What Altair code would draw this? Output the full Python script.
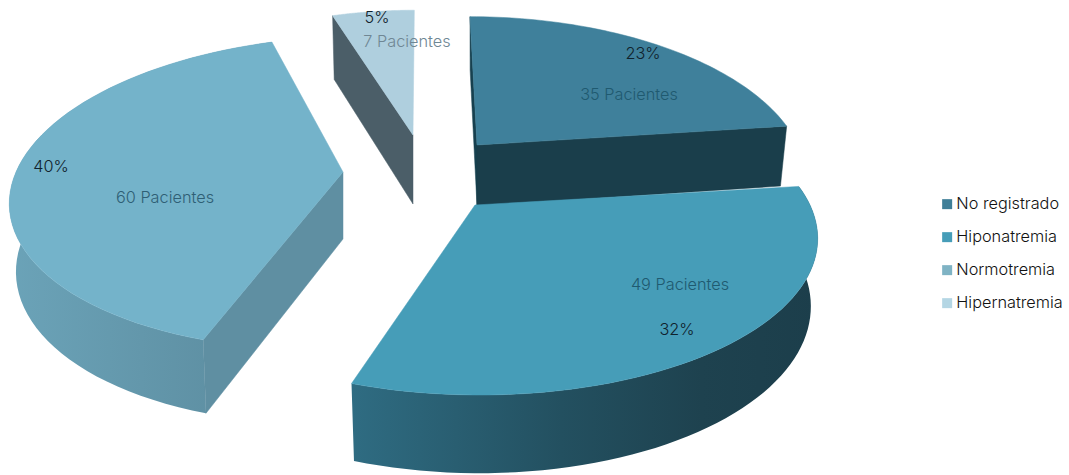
import math
import altair as alt
import pandas as pd

# Chart values
categories = ["No registrado", "Hiponatremia", "Normotremia", "Hipernatremia"]
percentages = [23, 32, 40, 5]
patients = [35, 49, 60, 7]

top_colors = ["#3f809b", "#469db8", "#74b3ca", "#afcfde"]
swatch_colors = ["#3f7f98", "#469db8", "#7fb3c4", "#b4d6e4"]

W, H = 1069, 475

# Projection of each exploded slice: tip position, radii, shear, perspective, depth
SLICES = [
    dict(cx=477, cy=145, rx=321, ry=154, shear=-8.4, k=0.20, depth=61),
    dict(cx=475, cy=205, rx=335, ry=152, shear=-3.7, k=0.20, depth=65.6),
    dict(cx=343, cy=172, rx=327, ry=154, shear=22, k=0.134, depth=67),
    dict(cx=413, cy=135, rx=297, ry=141, shear=1.5, k=0.13, depth=69),
]
SHRINK = 0.98


def project(s, t, bottom=False):
    u, v = math.sin(t), math.cos(t)
    w = 1 + s["k"] * v
    dx = (s["rx"] * u + s["shear"] * v) / w
    dy = -s["ry"] * v / w
    if bottom:
        return s["cx"] + dx * SHRINK, s["cy"] + dy * SHRINK + s["depth"] / w
    return s["cx"] + dx, s["cy"] + dy


def arc_points(s, t0, t1, bottom=False, n=60):
    return [project(s, t0 + (t1 - t0) * i / n, bottom) for i in range(n + 1)]


def polygon(points, fill):
    df = pd.DataFrame(points, columns=["px", "py"])
    df["i"] = range(len(df))
    return alt.Chart(df).mark_line(
        filled=True, fill=fill, stroke=fill if isinstance(fill, str) else None,
        strokeWidth=0.5 if isinstance(fill, str) else 0,
        interpolate="linear-closed", clip=True,
    ).encode(
        x=alt.X("px:Q", scale=alt.Scale(domain=[0, W], nice=False, zero=False), axis=None),
        y=alt.Y("py:Q", scale=alt.Scale(domain=[H, 0], nice=False, zero=False), axis=None),
        order=alt.Order("i:Q"),
    )


def ramp(*stops):
    return alt.Gradient(
        gradient="linear", x1=0, y1=0, x2=1, y2=0,
        stops=[alt.GradientStop(color=c, offset=o) for c, o in stops],
    )


def radial_wall(s, t):
    tip_top = (s["cx"], s["cy"])
    tip_bot = (s["cx"], s["cy"] + s["depth"])
    return [tip_top, project(s, t), project(s, t, True), tip_bot]


def arc_wall(s, t0, t1):
    return arc_points(s, t0, t1) + arc_points(s, t0, t1, True)[::-1]


# Angular extent of each slice, clockwise from twelve o'clock
angles = []
acc = 0
for p in percentages:
    angles.append((acc / 100 * 2 * math.pi, (acc + p) / 100 * 2 * math.pi))
    acc += p

layers = []

# No registrado: thin inner edge and front wall
s, (a0, a1) = SLICES[0], angles[0]
layers.append(polygon(radial_wall(s, a0), "#17404f"))
layers.append(polygon(radial_wall(s, a1), "#1a3e4b"))
layers.append(polygon([(s["cx"], s["cy"])] + arc_points(s, a0, a1), top_colors[0]))

# Hiponatremia: curved outer wall
s, (a0, a1) = SLICES[1], angles[1]
layers.append(polygon(arc_wall(s, a0, a1), ramp(("#2f6c82", 0), ("#235060", 0.45), ("#1e424f", 0.75), ("#1c3e4b", 1))))
layers.append(polygon([(s["cx"], s["cy"])] + arc_points(s, a0, a1), top_colors[1]))

# Normotremia: curved outer wall and the wall facing the centre
s, (a0, a1) = SLICES[2], angles[2]
layers.append(polygon(arc_wall(s, a0, a1), ramp(("#6ba3b8", 0), ("#5b8b9e", 1))))
layers.append(polygon(radial_wall(s, a0), "#5f8fa2"))
layers.append(polygon([(s["cx"], s["cy"])] + arc_points(s, a0, a1), top_colors[2]))

# Hipernatremia: flat wall and narrow top
s, (a0, a1) = SLICES[3], angles[3]
layers.append(polygon(radial_wall(s, a0), "#4b5e68"))
layers.append(polygon([(s["cx"], s["cy"])] + arc_points(s, a0, a1), top_colors[3]))

# Slice labels
pct_pos = [(643, 54), (677, 330), (51, 167), (377, 18)]
count_pos = [(629, 95), (680, 285), (165, 198), (407, 42)]
count_colors = ["#1f5a70", "#1f5a70", "#2f5f75", "#6f8794"]

labels = pd.DataFrame({
    "px": [p[0] for p in pct_pos] + [p[0] for p in count_pos],
    "py": [p[1] for p in pct_pos] + [p[1] for p in count_pos],
    "txt": [f"{p}%" for p in percentages] + [f"{n} Pacientes" for n in patients],
    "col": ["#10222c"] * 4 + count_colors,
})
text_layer = alt.Chart(labels).mark_text(
    font="Inter", fontWeight=300, fontSize=16.3, align="center", baseline="middle"
).encode(
    x=alt.X("px:Q", scale=alt.Scale(domain=[0, W], nice=False, zero=False), axis=None),
    y=alt.Y("py:Q", scale=alt.Scale(domain=[H, 0], nice=False, zero=False), axis=None),
    color=alt.Color("col:N", scale=None),
    text="txt:N",
)

# Legend carried by an invisible layer of the four categories
legend_df = pd.DataFrame({"cat": categories, "px": [0] * 4, "py": [0] * 4})
legend_layer = alt.Chart(legend_df).mark_square(size=0, opacity=0).encode(
    x=alt.X("px:Q", scale=alt.Scale(domain=[0, W], nice=False, zero=False), axis=None),
    y=alt.Y("py:Q", scale=alt.Scale(domain=[H, 0], nice=False, zero=False), axis=None),
    fill=alt.Fill(
        "cat:N",
        scale=alt.Scale(domain=categories, range=swatch_colors),
        legend=alt.Legend(
            title=None, orient="none", legendX=939, legendY=196,
            symbolType="square", symbolSize=100, symbolOpacity=1,
            symbolStrokeWidth=0,
            labelFont="Inter", labelFontWeight=300, labelFontSize=16.3,
            labelColor="#111111", labelOffset=1, rowPadding=16,
            labelLimit=140,
        ),
    ),
)

chart = alt.layer(*layers, text_layer, legend_layer).properties(
    width=W, height=H, padding=0, autosize=alt.AutoSizeParams(type="none"),
    background="white",
).configure_view(stroke=None)

chart.save("out.html", embed_options={"renderer": "svg", "actions": False})
